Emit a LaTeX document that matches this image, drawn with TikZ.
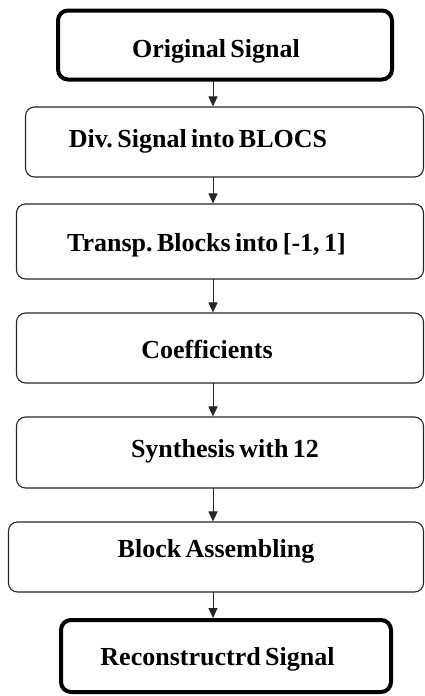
\documentclass[tikz,border=0pt]{standalone}
\usepackage{fontspec}
\setmainfont{Liberation Serif}
\usetikzlibrary{arrows.meta}
\newcommand{\lblfont}{\bfseries\fontsize{26}{30}\selectfont\frenchspacing\spaceskip=0.17em plus 0.05em\relax}
\begin{document}
\begin{tikzpicture}[x=1pt,y=-1pt,
  box/.style={draw=black!85,line width=1.1pt,rounded corners=9pt,inner sep=0pt},
  thickbox/.style={draw=black,line width=4pt,rounded corners=10pt,inner sep=0pt},
  lbl/.style={font=\lblfont,inner sep=0pt,anchor=base},
  arr/.style={draw=black!85,line width=1pt,-{Triangle[length=10pt,width=9pt]}}]
\useasboundingbox (0,0) rectangle (425,696);
% boxes
\node[thickbox,minimum width=334pt,minimum height=69pt] (b1) at (225,45) {};
\node[box,minimum width=398pt,minimum height=70pt] (b2) at (224.5,142) {};
\node[box,minimum width=407pt,minimum height=75pt] (b3) at (220,241.5) {};
\node[box,minimum width=407pt,minimum height=70pt] (b4) at (220,348) {};
\node[box,minimum width=407pt,minimum height=71pt] (b5) at (220,452.5) {};
\node[box,minimum width=415pt,minimum height=70pt] (b6) at (216,557) {};
\node[thickbox,minimum width=330pt,minimum height=72pt] (b7) at (226,656) {};
% labels
\node[lbl] (t1) at (216,57) {Original Signal};
\node[lbl] (t2) at (198,147) {Div. Signal into BLOCS};
\node[lbl] (t3) at (206.5,251) {Transp. Blocks into [-1, 1]};
\node[lbl] (t4) at (207,358) {Coefficients};
\node[lbl] (t5) at (225,457) {Synthesis with 12};
\node[lbl] (t6) at (216,557) {Block Assembling};
\node[lbl] (t7) at (217.5,665) {Reconstructrd Signal};
% arrows
\coordinate (a1) at (213,81);
\coordinate (a2) at (213,177);
\coordinate (a3) at (213,279);
\coordinate (a4) at (213,383);
\coordinate (a5) at (213,488);
\coordinate (a6) at (213,592);
\draw[arr] (a1) -- (a1 |- b2.north);
\draw[arr] (a2) -- (a2 |- b3.north);
\draw[arr] (a3) -- (a3 |- b4.north);
\draw[arr] (a4) -- (a4 |- b5.north);
\draw[arr] (a5) -- (a5 |- b6.north);
\draw[arr] (a6) -- (a6 |- b7.north west);
\end{tikzpicture}
\end{document}
